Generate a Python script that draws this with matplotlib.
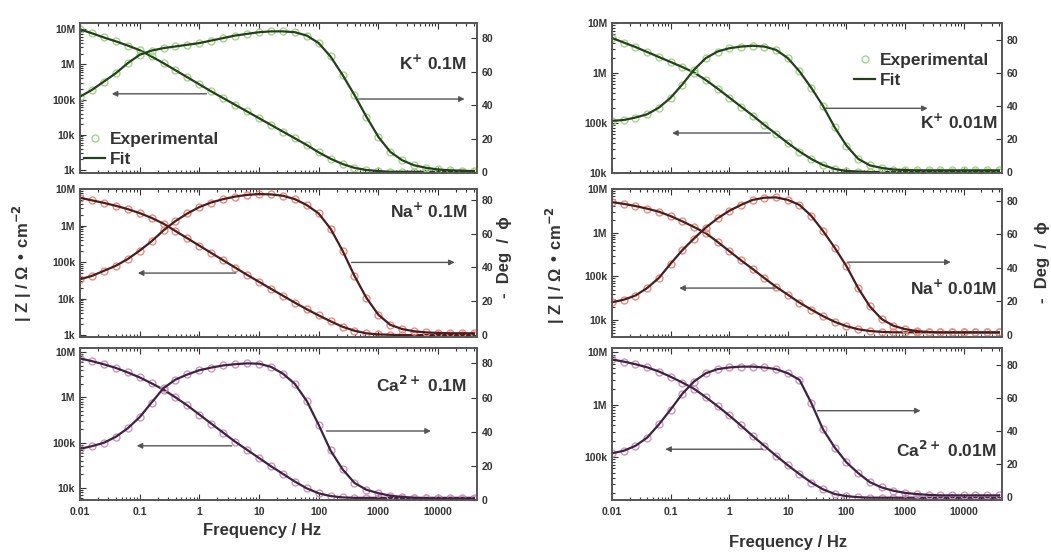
import numpy as np
import matplotlib.pyplot as plt
from matplotlib.ticker import LogLocator, NullFormatter, FuncFormatter, MultipleLocator

plt.rcParams['font.family'] = ['Liberation Sans', 'DejaVu Sans']
plt.rcParams['font.weight'] = 'bold'
plt.rcParams['mathtext.default'] = 'bf'

# measurement frequencies (Hz), 5 points per decade
freq = [0.01, 0.0158, 0.0251, 0.0398, 0.0631, 0.1, 0.158, 0.251, 0.398, 0.631,
        1, 1.58, 2.51, 3.98, 6.31, 10, 15.8, 25.1, 39.8, 63.1,
        100, 158, 251, 398, 631, 1000, 1585, 2512, 3981, 6310,
        10000, 15849, 25119, 39811]

# log10 |Z| (ohm cm2) and phase (-deg) for each electrolyte
logz_k01 = [6.99, 6.88, 6.76, 6.65, 6.53, 6.40, 6.22, 6.03, 5.83, 5.63,
            5.43, 5.23, 5.04, 4.85, 4.66, 4.47, 4.28, 4.09, 3.90, 3.71,
            3.50, 3.32, 3.17, 3.06, 3.00, 2.97, 2.95, 2.95, 2.95, 2.95,
            2.95, 2.95, 2.95, 2.95]
ph_k01 = [45, 49, 54, 59, 65, 70, 72.5, 74, 75, 76,
          77, 78.5, 80, 81.5, 82.5, 83.5, 84, 84, 83.5, 81.5,
          77, 69, 58, 46, 33, 21, 12, 7, 4, 2.5,
          1.5, 1, 0.8, 0.5]

logz_na01 = [6.76, 6.69, 6.62, 6.54, 6.45, 6.34, 6.21, 6.05, 5.85, 5.65,
             5.45, 5.25, 5.05, 4.85, 4.65, 4.46, 4.27, 4.08, 3.89, 3.71,
             3.54, 3.38, 3.23, 3.12, 3.05, 3.02, 3.01, 3.0, 3.0, 3.0,
             3.0, 3.0, 3.0, 3.0]
ph_na01 = [33, 35, 38, 41, 45, 50, 55.5, 62, 67.5, 72,
           75.8, 78.5, 80.5, 82, 83, 83.5, 83.3, 82.5, 80.5, 77,
           72, 63, 50, 35, 22, 12, 6, 3.5, 2.2, 1.5,
           1.2, 1, 1, 1]

logz_ca01 = [6.86, 6.80, 6.73, 6.65, 6.55, 6.44, 6.31, 6.17, 6.00, 5.82,
             5.62, 5.42, 5.22, 5.02, 4.84, 4.66, 4.48, 4.31, 4.14, 3.99,
             3.88, 3.82, 3.79, 3.78, 3.78, 3.78, 3.78, 3.78, 3.78, 3.78,
             3.78, 3.78, 3.78, 3.78]
ph_ca01 = [30, 31.5, 33.5, 37, 42, 48.5, 57, 65.5, 70.5, 73.5,
           76, 77.5, 78.8, 79.5, 80, 79.8, 78, 74, 68, 58,
           44, 29, 18, 10, 6, 4, 2.5, 1.8, 1.3, 1,
           0.8, 0.8, 0.8, 0.8]

logz_k001 = [6.70, 6.61, 6.52, 6.42, 6.32, 6.22, 6.12, 6.01, 5.86, 5.69,
             5.51, 5.33, 5.15, 4.96, 4.78, 4.60, 4.43, 4.28, 4.16, 4.08,
             4.04, 4.03, 4.02, 4.02, 4.02, 4.02, 4.02, 4.02, 4.02, 4.02,
             4.02, 4.02, 4.02, 4.02]
ph_k001 = [31, 31.5, 33, 35, 39, 45, 53, 62, 69, 73,
           75, 76, 76.5, 76, 74, 69, 61, 51, 40, 27,
           16, 8, 4, 2.5, 1.5, 1.2, 1, 1, 1, 1,
           1, 1, 1, 1]

logz_na001 = [6.70, 6.66, 6.61, 6.55, 6.48, 6.38, 6.26, 6.13, 5.99, 5.79,
              5.58, 5.37, 5.17, 4.96, 4.76, 4.58, 4.40, 4.24, 4.09, 3.96,
              3.86, 3.79, 3.75, 3.73, 3.72, 3.72, 3.72, 3.72, 3.72, 3.72,
              3.72, 3.72, 3.72, 3.72]
ph_na001 = [19.5, 21, 23.5, 28, 34, 42.5, 50.5, 57.5, 64, 69.5,
            74, 77.5, 80.5, 81.8, 82, 80.5, 77.5, 71, 62, 52,
            41, 28, 17, 9.5, 5.5, 3.5, 2.3, 1.8, 1.5, 1.5,
            1.5, 1.5, 1.5, 1.5]

logz_ca001 = [6.86, 6.82, 6.77, 6.71, 6.63, 6.53, 6.42, 6.30, 6.14, 5.97,
              5.79, 5.60, 5.40, 5.21, 5.02, 4.84, 4.67, 4.51, 4.38, 4.29,
              4.25, 4.23, 4.22, 4.22, 4.22, 4.22, 4.22, 4.22, 4.22, 4.22,
              4.22, 4.22, 4.22, 4.22]
ph_ca001 = [26.5, 28, 31, 36, 44, 53, 62.5, 70, 75, 77.5,
            78.5, 79, 79, 78.5, 77.5, 75, 71, 57, 41, 30,
            21, 14.5, 9, 5.8, 3.8, 2.5, 1.8, 1.3, 1, 1,
            1, 1, 1, 1]

labels = ['K$^{+}$ 0.1M', 'Na$^{+}$ 0.1M', 'Ca$^{2+}$ 0.1M',
          'K$^{+}$ 0.01M', 'Na$^{+}$ 0.01M', 'Ca$^{2+}$ 0.01M']

W, H = 1051, 554
fig = plt.figure(figsize=(W / 100, H / 100), dpi=100)

col_px = [(80, 477), (612, 1002)]
row_px = [(23, 173), (189, 337), (348, 500)]

green = ('#a6d48a', '#22401a')
red = ('#ec8c80', '#4a1c1c')
purple = ('#cf96c0', '#3e2240')

# col, row, |Z| data, phase data, colours, |Z| limits, phase limits,
# label position, left arrow (tail, head, y), right arrow (tail, head, y)
panels = [
    (0, 0, logz_k01, ph_k01, green, (822, 1.48e7), (-0.6, 89), (0.975, 0.73),
     (1.31, 0.034, 1.45e5), (467, 28000, 43.6)),
    (0, 1, logz_na01, ph_na01, red, (890, 1.0e7), (-1.2, 86.5), (0.975, 0.85),
     (4.1, 0.093, 5.0e4), (355, 19000, 43)),
    (0, 2, logz_ca01, ph_ca01, purple, (5.4e3, 1.23e7), (0, 89), (0.975, 0.757),
     (3.5, 0.089, 8.5e4), (135, 7600, 40.4)),
    (1, 0, logz_k001, ph_k001, green, (1e4, 1e7), (-0.6, 90.3), (0.987, 0.34),
     (5.0, 0.106, 6.3e4), (43.5, 2430, 38.6)),
    (1, 1, logz_na001, ph_na001, red, (4.1e3, 1e7), (-1.2, 87), (0.987, 0.33),
     (6.1, 0.14, 5.4e4), (105, 6000, 43.4)),
    (1, 2, logz_ca001, ph_ca001, purple, (1.5e4, 1.2e7), (-1.8, 90.3), (0.987, 0.33),
     (3.7, 0.081, 1.4e5), (32, 1840, 52.3)),
]

z_names = {1e3: '1k', 1e4: '10k', 1e5: '100k', 1e6: '1M', 1e7: '10M'}
tick_kw = dict(direction='in', labelsize=7.5, colors='#333', width=0.8)
spine_col = '#555'
arrow_kw = dict(arrowstyle='-|>', color='#555', lw=1.0, mutation_scale=8,
                shrinkA=0, shrinkB=0)

for i, (c, r, logz, ph, (mc, lc), zlim, plim, lab_xy, la, ra) in enumerate(panels):
    x0, x1 = col_px[c]
    y0, y1 = row_px[r]
    ax = fig.add_axes([x0 / W, 1 - y1 / H, (x1 - x0) / W, (y1 - y0) / H])
    ax2 = ax.twinx()
    z = 10 ** np.array(logz)

    exp_h, = ax.plot(freq, z, 'o', ms=5, mfc='none', mec=mc, mew=1.0)
    fit_h, = ax.plot(freq, z, '-', color=lc, lw=1.6)
    ax2.plot(freq, ph, 'o', ms=5, mfc='none', mec=mc, mew=1.0)
    ax2.plot(freq, ph, '-', color=lc, lw=1.6)

    ax.set_xscale('log')
    ax.set_yscale('log')
    ax.set_xlim(0.01, 4.5e4)
    ax.set_ylim(*zlim)
    ax2.set_ylim(*plim)

    ax.xaxis.set_major_locator(LogLocator(base=10, numticks=12))
    ax.xaxis.set_minor_locator(LogLocator(base=10, subs=np.arange(2, 10), numticks=12))
    ax.xaxis.set_minor_formatter(NullFormatter())
    if r == 2:
        ax.xaxis.set_major_formatter(FuncFormatter(lambda v, p: '%g' % v))
    else:
        ax.xaxis.set_major_formatter(NullFormatter())
    ax.yaxis.set_major_locator(LogLocator(base=10, numticks=10))
    ax.yaxis.set_minor_locator(LogLocator(base=10, subs=np.arange(2, 10), numticks=10))
    ax.yaxis.set_minor_formatter(NullFormatter())
    ax.yaxis.set_major_formatter(FuncFormatter(lambda v, p: z_names.get(v, '')))
    ax2.yaxis.set_major_locator(MultipleLocator(20))
    ax2.yaxis.set_major_formatter(FuncFormatter(lambda v, p: '%d' % v))

    ax.tick_params(which='both', top=True, **tick_kw)
    ax.tick_params(which='major', length=4)
    ax.tick_params(which='minor', length=2)
    ax.tick_params(axis='x', pad=5)
    ax2.tick_params(which='both', length=4, **tick_kw)
    for a in (ax, ax2):
        for s in a.spines.values():
            s.set_color(spine_col)
            s.set_linewidth(1.2)

    ax2.text(lab_xy[0], lab_xy[1], labels[i], transform=ax2.transAxes,
             ha='right', va='center', fontsize=12.5, color='#333')

    ax.annotate('', xy=(la[1], la[2]), xytext=(la[0], la[2]), arrowprops=arrow_kw)
    ax2.annotate('', xy=(ra[1], ra[2]), xytext=(ra[0], ra[2]), arrowprops=arrow_kw)

    if i == 0:
        ax2.legend([exp_h, fit_h], ['Experimental', 'Fit'], loc='lower left',
                   bbox_to_anchor=(-0.015, -0.03), frameon=False, fontsize=12.5,
                   handlelength=1.2, handletextpad=0.25, labelspacing=0.3,
                   borderaxespad=0.2, labelcolor='#333')
    if i == 3:
        ax2.legend([exp_h, fit_h], ['Experimental', 'Fit'], loc='upper left',
                   bbox_to_anchor=(0.595, 0.87), frameon=False, fontsize=12.5,
                   handlelength=1.2, handletextpad=0.25, labelspacing=0.3,
                   borderaxespad=0.2, labelcolor='#333')

# shared axis titles
zlab = '| Z | / Ω • cm$^{-2}$'
plab = '-  Deg  /  ϕ'
fig.text(22 / W, 1 - 263 / H, zlab, rotation=90, ha='center', va='center', fontsize=12, color='#333')
fig.text(505 / W, 1 - 257 / H, plab, rotation=90, ha='center', va='center', fontsize=12, color='#333')
fig.text(555 / W, 1 - 265 / H, zlab, rotation=90, ha='center', va='center', fontsize=12, color='#333')
fig.text(1043 / W, 1 - 262 / H, plab, rotation=90, ha='center', va='center', fontsize=12, color='#333')
fig.text(262 / W, 1 - 531 / H, 'Frequency / Hz', ha='center', va='center', fontsize=12, color='#333')
fig.text(788 / W, 1 - 543 / H, 'Frequency / Hz', ha='center', va='center', fontsize=12, color='#333')

fig.savefig('out.png', dpi=100)
